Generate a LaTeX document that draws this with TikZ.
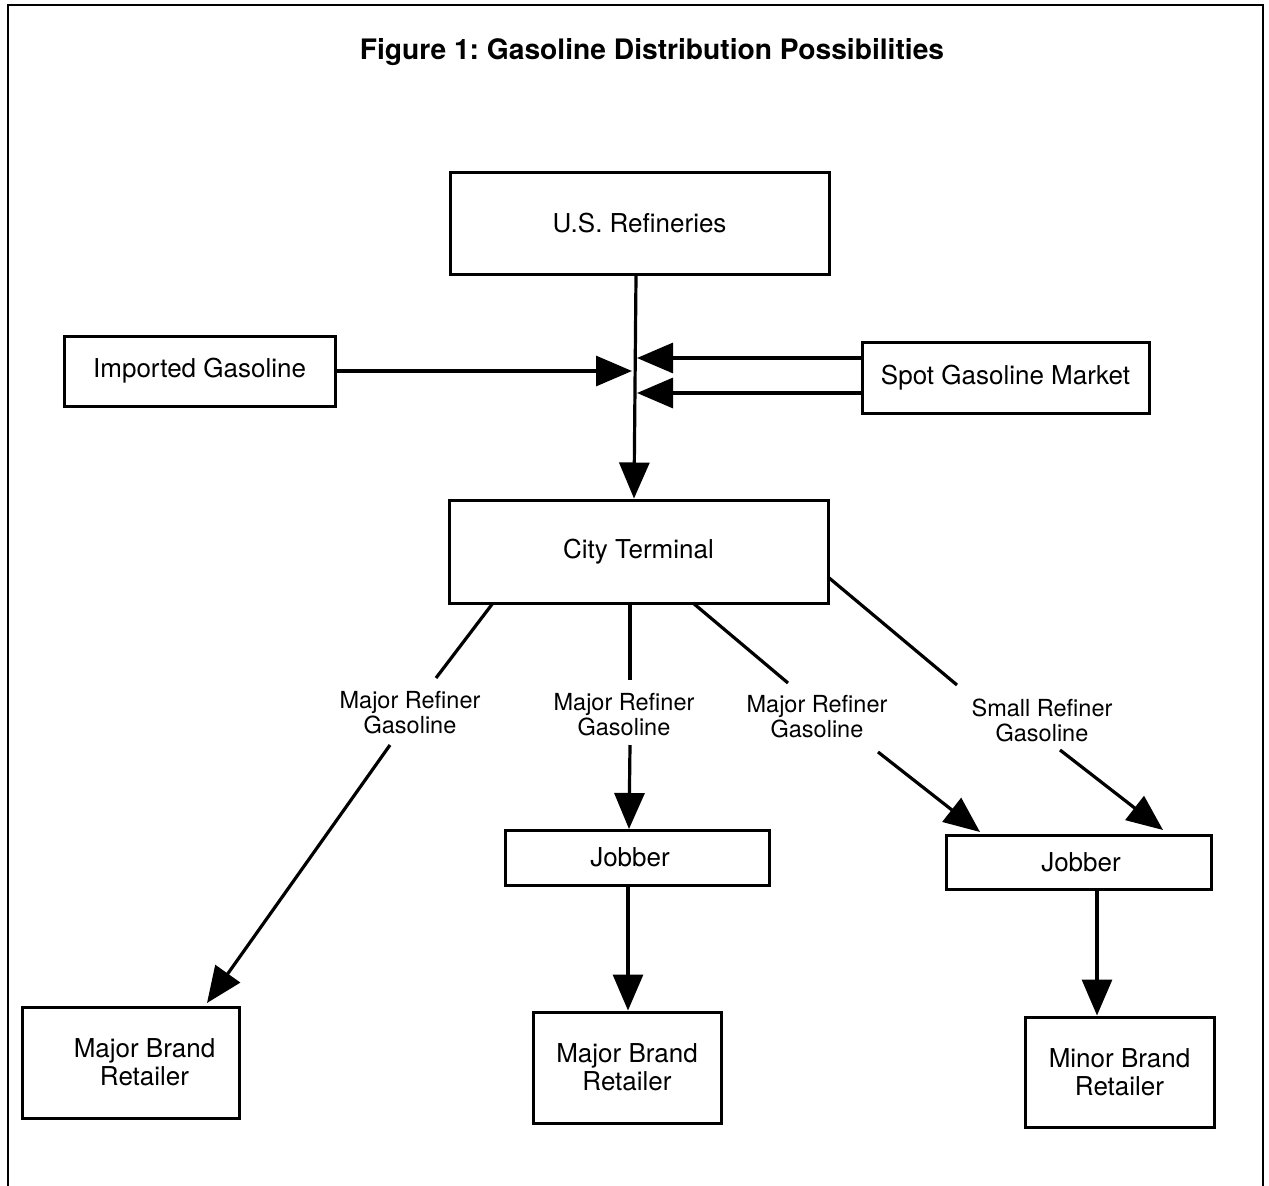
\documentclass[tikz,border=0pt]{standalone}
\usepackage{fontspec}
\setmainfont{TeX Gyre Heros}
\usetikzlibrary{arrows.meta}
\frenchspacing
\begin{document}
\begin{tikzpicture}[x=1pt,y=-1pt,
  box/.style={draw,line width=3pt,inner sep=0pt,align=center,font=\fontsize{26}{28}\selectfont},
  lbl/.style={inner sep=0pt,align=center,font=\fontsize{23.5}{25}\selectfont},
  ln/.style={line width=3.2pt},
  arr/.style={line width=3.2pt,-{Triangle[length=36pt,width=30pt]}}]
\useasboundingbox (0,0) rectangle (1269,1186);
% frame
\draw[line width=2pt] (8,1186) -- (8,5) -- (1263,5) -- (1263,1186);
\node[font=\bfseries\fontsize{28.2}{30}\selectfont] (title) at (652,52) {Figure 1: Gasoline Distribution Possibilities};
% boxes
\node[box,minimum width=379pt,minimum height=102pt] (usr) at (639.5,223) {U.S. Refineries};
\node[box,minimum width=271pt,minimum height=70pt] (imp) at (199.5,371) {Imported Gasoline};
\node[box,minimum width=287pt,minimum height=71pt] (spot) at (1005.5,377.5) {Spot Gasoline Market};
\node[box,minimum width=379pt,minimum height=103pt] (ct) at (638.5,551.5) {City Terminal};
\node[box,minimum width=264pt,minimum height=55pt] (job1) at (637,857.5) {\hspace*{-14pt}Jobber};
\node[box,minimum width=265pt,minimum height=54pt] (job2) at (1078.5,862) {\hspace*{5pt}Jobber};
\node[box,minimum width=217pt,minimum height=111pt] (mbr1) at (130.5,1062.5) {\hspace*{28pt}Major Brand\\\hspace*{28pt}Retailer};
\node[box,minimum width=188pt,minimum height=111pt] (mbr2) at (627,1067.5) {Major Brand\\Retailer};
\node[box,minimum width=189pt,minimum height=110pt] (minor) at (1119.5,1072) {Minor Brand\\Retailer};
% labels
\node[lbl] (l1) at (410,713) {Major Refiner\\Gasoline};
\node[lbl] (l2) at (624,715) {Major Refiner\\Gasoline};
\node[lbl] (l3) at (817,717) {Major Refiner\\Gasoline};
\node[lbl] (l4) at (1042,720) {Small Refiner\\Gasoline};
% junction coordinates
\coordinate (jin) at (632,371);
\coordinate (js1) at (637,358);
\coordinate (js2) at (637,393);
\coordinate (b1s) at (493,603);
\coordinate (b1e) at (436,678);
\coordinate (b1f) at (390,745);
\coordinate (b1t) at (207,1003);
\coordinate (b2s) at (630,603);
\coordinate (b2e) at (630,680);
\coordinate (b2f) at (630,745);
\coordinate (b2t) at (629,829);
\coordinate (b3s) at (693,603);
\coordinate (b3e) at (788,683);
\coordinate (b3f) at (878,752);
\coordinate (b3t) at (980,832);
\coordinate (b4s) at (828,577);
\coordinate (b4e) at (957,685);
\coordinate (b4f) at (1060,750);
\coordinate (b4t) at (1163,830);
% connectors
\draw[arr] ([xshift=-3.5pt]usr.south) -- ([xshift=-4.5pt]ct.north);
\draw[arr] (imp.east) -- (jin);
\draw[arr] ([yshift=19.5pt]spot.west) -- (js1);
\draw[arr] ([yshift=-15.5pt]spot.west) -- (js2);
\draw[ln] (b1s) -- (b1e);
\draw[arr] (b1f) -- (b1t);
\draw[ln] (b2s) -- (b2e);
\draw[arr] (b2f) -- (b2t);
\draw[ln] (b3s) -- (b3e);
\draw[arr] (b3f) -- (b3t);
\draw[ln] (b4s) -- (b4e);
\draw[arr] (b4f) -- (b4t);
\draw[arr] ([xshift=-9pt]job1.south) -- ([xshift=1pt]mbr2.north);
\draw[arr] ([xshift=18.5pt]job2.south) -- ([xshift=-22.5pt]minor.north);
\end{tikzpicture}
\end{document}
